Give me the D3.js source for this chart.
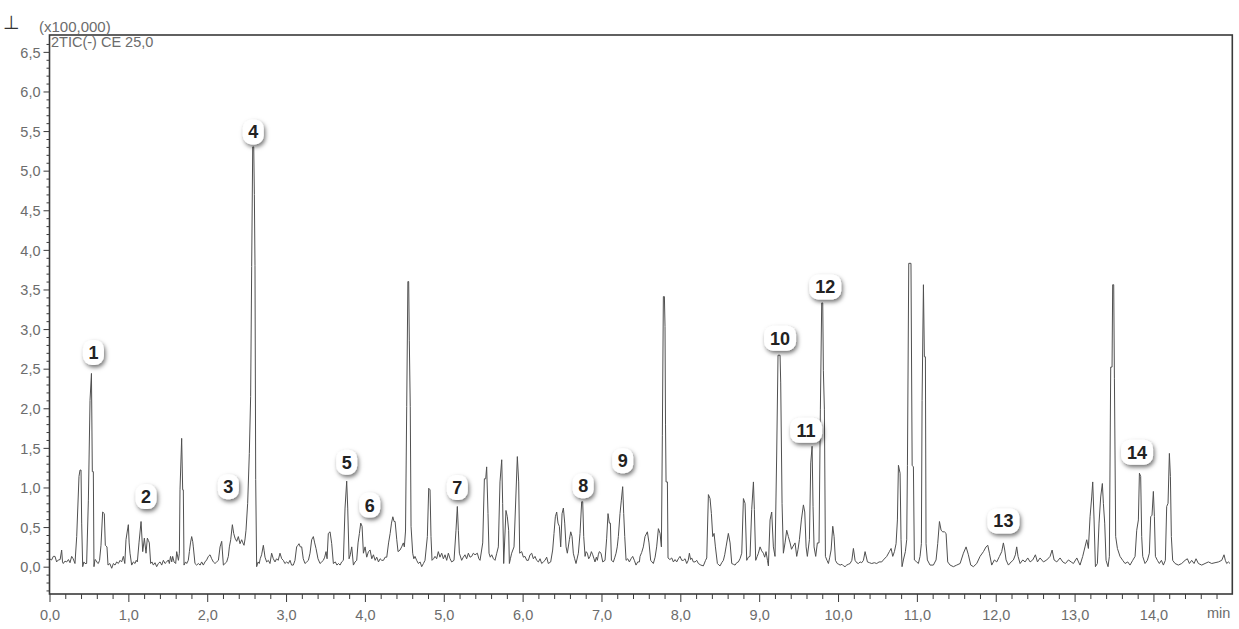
<!DOCTYPE html>
<html>
<head>
<meta charset="utf-8">
<script src="https://cdn.jsdelivr.net/npm/d3@7/dist/d3.min.js"></script>
<style>
  html, body { margin: 0; padding: 0; background: #ffffff; }
  svg { display: block; }
  text { font-family: "Liberation Sans", Arial, sans-serif; }
</style>
</head>
<body>
<svg id="chart" width="1239" height="629"></svg>
<script>
// Total ion chromatogram, negative mode: [retention time (min), intensity (x100,000)]
const tracePoints = [
  [0.000,0.10],[0.027,0.085],[0.048,0.13],[0.070,0.13],[0.090,0.06],[0.112,0.085],[0.135,0.09],[0.154,0.21],
  [0.165,0.06],[0.175,0.04],[0.196,0.07],[0.218,0.06],[0.240,0.09],[0.260,0.05],[0.281,0.13],[0.300,0.10],
  [0.323,0.04],[0.345,0.38],[0.374,1.14],[0.387,1.22],[0.400,1.22],[0.408,0.55],[0.421,0.00],[0.436,0.06],
  [0.450,0.04],[0.471,0.04],[0.493,0.84],[0.514,2.10],[0.532,2.44],[0.543,1.20],[0.556,1.20],[0.564,0.00],
  [0.577,0.09],[0.590,0.08],[0.605,0.05],[0.619,0.04],[0.635,0.08],[0.653,0.27],[0.674,0.69],[0.695,0.67],
  [0.708,0.27],[0.729,0.25],[0.742,0.02],
  [0.765,0.04],[0.789,-0.02],[0.810,0.04],[0.831,0.02],[0.852,0.06],[0.873,0.04],[0.895,0.08],[0.915,0.06],
  [0.937,0.13],[0.955,0.04],[0.970,0.34],[0.987,0.45],[1.000,0.53],[1.010,0.30],[1.021,0.17],[1.042,0.02],
  [1.064,0.06],[1.085,0.04],[1.100,0.08],[1.114,0.06],[1.135,0.30],[1.161,0.57],[1.182,0.19],[1.203,0.36],
  [1.224,0.17],[1.241,0.36],[1.255,0.33],[1.266,0.30],[1.283,0.04],[1.300,0.06],[1.317,0.02],[1.338,0.05],
  [1.359,0.00],[1.380,0.04],[1.402,0.06],[1.423,0.02],[1.444,0.08],[1.465,0.04],[1.486,0.06],[1.507,0.085],
  [1.520,0.04],[1.535,0.13],[1.550,0.06],[1.562,0.13],[1.580,0.06],[1.600,0.04],[1.613,0.19],[1.635,0.08],
  [1.647,0.17],[1.655,0.97],[1.676,1.62],[1.689,0.97],[1.697,0.97],[1.706,0.02],[1.725,0.06],[1.740,0.04],
  [1.760,0.08],[1.774,0.19],[1.788,0.30],[1.803,0.38],[1.816,0.32],[1.824,0.25],[1.845,0.04],[1.866,0.02],
  [1.888,0.04],[1.910,0.02],[1.930,0.06],[1.951,0.02],[1.972,0.06],[1.993,0.085],[2.015,0.13],[2.036,0.15],
  [2.057,0.10],[2.078,0.06],[2.099,0.04],[2.120,0.06],[2.142,0.08],[2.163,0.25],[2.184,0.32],[2.205,0.02],
  [2.226,0.04],[2.247,0.06],[2.268,0.13],[2.281,0.25],[2.298,0.34],[2.319,0.53],[2.336,0.42],[2.353,0.36],
  [2.374,0.32],[2.395,0.38],[2.416,0.29],[2.437,0.34],[2.452,0.30],[2.467,0.27],[2.480,0.35],
  [2.492,0.46],[2.513,0.80],[2.534,1.43],[2.551,2.15],[2.564,3.79],[2.577,5.30],[2.590,5.30],[2.598,4.70],
  [2.606,3.80],[2.615,1.10],[2.627,0.00],[2.645,0.06],[2.660,0.04],[2.672,0.10],[2.690,0.15],[2.712,0.27],
  [2.722,0.20],[2.733,0.12],[2.754,0.06],[2.775,0.08],[2.796,0.04],[2.817,0.17],[2.838,0.10],[2.860,0.06],
  [2.880,0.10],[2.900,0.08],[2.923,0.17],[2.945,0.10],[2.965,0.08],[2.985,0.04],[3.008,0.06],[3.029,0.04],
  [3.050,0.08],[3.070,0.02],[3.092,0.02],[3.113,0.08],[3.134,0.25],[3.150,0.27],[3.164,0.29],[3.180,0.25],
  [3.198,0.25],[3.218,0.10],[3.240,0.04],[3.262,0.06],[3.283,0.08],[3.304,0.17],[3.325,0.34],[3.346,0.38],
  [3.363,0.30],[3.380,0.23],[3.405,0.10],[3.431,0.04],[3.452,0.06],[3.473,0.08],[3.490,0.12],[3.507,0.19],
  [3.520,0.10],[3.536,0.42],[3.558,0.44],[3.579,0.29],[3.600,0.04],[3.625,0.06],[3.645,0.02],[3.665,0.04],
  [3.685,0.02],[3.705,0.06],[3.727,0.08],[3.748,0.74],[3.769,1.08],[3.782,0.74],[3.799,0.10],[3.815,0.15],
  [3.833,0.25],[3.854,0.02],[3.875,0.06],[3.896,0.08],[3.913,0.30],[3.930,0.42],[3.947,0.55],[3.964,0.51],
  [3.981,0.17],[4.002,0.25],[4.023,0.12],[4.045,0.19],[4.066,0.21],[4.087,0.10],[4.108,0.15],[4.130,0.08],
  [4.150,0.12],[4.172,0.06],[4.193,0.10],[4.214,0.08],[4.235,0.08],[4.256,0.12],[4.277,0.12],[4.300,0.30],
  [4.320,0.42],[4.337,0.55],[4.354,0.63],[4.370,0.57],[4.383,0.57],[4.404,0.34],[4.420,0.19],[4.445,0.21],
  [4.466,0.25],[4.487,0.30],[4.500,0.25],[4.515,0.45],[4.530,2.02],[4.545,3.60],[4.555,3.60],[4.563,2.86],
  [4.575,2.02],[4.585,0.51],[4.606,0.17],
  [4.620,0.10],[4.635,0.13],[4.656,0.08],[4.678,0.04],[4.700,0.06],[4.720,0.00],[4.742,0.04],[4.762,0.08],
  [4.792,0.38],[4.809,0.99],[4.826,0.97],[4.838,0.38],[4.851,0.08],[4.870,0.10],[4.889,0.13],[4.910,0.10],
  [4.931,0.19],[4.952,0.12],[4.974,0.17],[4.995,0.10],[5.016,0.15],[5.037,0.08],[5.058,0.17],[5.080,0.10],
  [5.100,0.06],[5.130,0.08],[5.155,0.46],[5.172,0.76],[5.185,0.46],[5.198,0.17],[5.227,0.08],[5.248,0.12],
  [5.269,0.15],[5.290,0.10],[5.312,0.17],[5.333,0.12],[5.354,0.13],[5.375,0.17],[5.396,0.15],[5.426,0.17],
  [5.445,0.10],[5.460,0.08],[5.494,0.30],[5.515,1.11],[5.532,1.11],[5.544,1.26],[5.561,0.67],[5.574,0.17],
  [5.590,0.12],[5.608,0.15],[5.630,0.10],[5.650,0.08],[5.672,0.17],[5.692,0.25],[5.713,1.07],[5.735,1.35],
  [5.747,0.80],[5.760,0.04],[5.789,0.71],[5.806,0.63],[5.823,0.46],[5.832,0.04],[5.845,0.10],[5.861,0.17],
  [5.891,0.25],[5.916,0.93],[5.933,1.39],[5.950,1.07],[5.963,0.17],[5.988,0.19],[6.010,0.12],[6.030,0.13],
  [6.052,0.08],[6.073,0.08],[6.094,0.15],[6.115,0.17],[6.136,0.10],[6.157,0.13],[6.178,0.08],[6.200,0.06],
  [6.221,0.10],[6.242,0.04],[6.263,0.06],[6.284,0.08],[6.305,0.12],[6.326,0.04],[6.356,0.06],[6.381,0.21],
  [6.398,0.42],[6.415,0.63],[6.432,0.69],[6.449,0.55],[6.466,0.51],[6.483,0.25],[6.500,0.67],[6.517,0.74],
  [6.534,0.55],[6.551,0.25],[6.567,0.17],[6.593,0.34],[6.610,0.44],[6.627,0.38],[6.643,0.17],[6.660,0.10],
  [6.677,0.04],[6.707,0.17],[6.728,0.42],[6.749,0.82],[6.762,0.82],[6.775,0.38],[6.792,0.13],[6.805,0.19],
  [6.821,0.17],[6.838,0.10],[6.855,0.13],[6.872,0.19],[6.889,0.15],[6.905,0.10],[6.918,0.06],[6.935,0.12],
  [6.948,0.08],[6.960,0.15],[6.973,0.19],[6.994,0.17],[7.016,0.06],[7.045,0.08],[7.066,0.36],[7.083,0.67],
  [7.100,0.55],[7.113,0.55],[7.126,0.08],[7.151,0.06],[7.170,0.12],[7.185,0.17],[7.200,0.25],[7.214,0.38],
  [7.235,0.67],[7.252,0.84],[7.269,1.01],[7.282,0.67],[7.295,0.38],[7.312,0.08],[7.333,0.10],[7.354,0.06],
  [7.375,0.10],[7.396,0.13],[7.417,0.08],[7.438,0.02],[7.460,0.06],[7.481,0.06],
  [7.489,0.13],[7.510,0.18],[7.531,0.25],[7.552,0.38],[7.582,0.44],[7.603,0.30],[7.624,0.08],[7.640,0.06],
  [7.658,0.04],[7.680,0.12],[7.700,0.25],[7.722,0.48],[7.743,0.42],[7.760,0.25],[7.772,1.66],[7.785,3.41],
  [7.798,3.41],[7.806,3.03],[7.812,1.80],[7.819,1.07],[7.836,1.07],[7.844,0.11],[7.868,0.09],[7.891,0.11],
  [7.912,0.06],[7.933,0.09],[7.954,0.06],[7.975,0.10],[7.996,0.13],[8.018,0.08],[8.039,0.08],[8.060,0.10],
  [8.081,0.04],[8.100,0.08],[8.115,0.17],[8.130,0.09],[8.144,0.11],[8.165,0.06],[8.187,0.06],[8.208,0.08],
  [8.229,0.04],[8.260,0.02],[8.292,0.01],[8.320,0.08],[8.335,0.11],[8.356,0.91],[8.377,0.86],[8.394,0.67],
  [8.411,0.38],[8.428,0.42],[8.445,0.25],[8.470,0.04],[8.490,0.02],[8.504,0.01],[8.525,0.05],[8.546,0.08],
  [8.563,0.15],[8.580,0.25],[8.609,0.42],[8.631,0.30],[8.652,0.04],[8.673,0.03],[8.694,0.02],[8.715,0.05],
  [8.736,0.06],[8.757,0.10],[8.779,0.17],[8.800,0.86],[8.821,0.80],[8.842,0.08],[8.863,0.12],[8.884,0.13],
  [8.905,0.72],[8.927,1.07],[8.939,0.72],[8.956,0.08],[8.975,0.13],[8.990,0.17],[9.011,0.25],[9.032,0.20],
  [9.053,0.17],[9.070,0.12],[9.087,0.19],[9.105,0.08],[9.117,0.01],[9.138,0.59],[9.159,0.69],[9.180,0.25],
  [9.201,0.13],[9.222,1.41],[9.239,2.67],[9.265,2.67],[9.273,2.32],[9.290,0.80],[9.307,0.17],[9.328,0.30],
  [9.349,0.46],[9.370,0.38],[9.392,0.30],[9.410,0.22],[9.425,0.25],[9.455,0.30],[9.476,0.13],[9.493,0.22],
  [9.510,0.34],[9.535,0.59],[9.561,0.78],[9.578,0.69],[9.595,0.25],[9.611,0.13],[9.637,0.34],[9.654,1.31],
  [9.671,1.52],[9.683,0.76],[9.696,0.25],[9.717,0.13],[9.738,0.30],[9.759,0.30],[9.776,1.98],[9.793,3.33],
  [9.806,3.33],[9.814,2.48],[9.827,1.98],[9.840,0.13],[9.860,0.08],[9.878,0.04],[9.895,0.12],[9.912,0.21],
  [9.933,0.51],[9.950,0.38],[9.967,0.08],[9.990,0.04],[10.010,0.03],[10.026,0.02],[10.050,0.03],[10.070,0.01],
  [10.089,0.00],[10.110,0.02],[10.130,0.03],[10.153,0.04],[10.175,0.08],[10.195,0.23],[10.216,0.08],[10.237,0.05],
  [10.258,0.04],[10.280,0.06],[10.300,0.05],[10.322,0.08],[10.343,0.19],[10.373,0.06],[10.400,0.05],[10.427,0.04],
  [10.460,0.05],[10.491,0.04],[10.520,0.06],[10.554,0.06],
  [10.575,0.085],[10.618,0.13],[10.651,0.19],[10.673,0.23],[10.694,0.13],[10.715,0.19],[10.736,0.29],[10.753,0.59],
  [10.766,1.28],[10.787,1.18],[10.799,0.34],[10.812,0.00],[10.829,0.085],[10.854,0.19],[10.871,0.34],[10.880,1.28],
  [10.897,3.83],[10.925,3.83],[10.940,1.28],[10.956,1.26],[10.968,0.085],[10.998,0.06],[11.019,0.04],[11.040,0.13],
  [11.057,0.29],[11.066,2.10],[11.083,3.56],[11.095,2.65],[11.108,2.65],[11.116,0.29],[11.133,0.085],[11.167,0.02],
  [11.209,0.02],[11.243,0.085],[11.264,0.29],[11.286,0.57],[11.307,0.46],[11.328,0.44],[11.349,0.44],[11.370,0.42],
  [11.391,0.06],[11.421,0.02],[11.463,0.00],[11.505,0.02],[11.548,0.04],[11.590,0.17],[11.624,0.25],[11.653,0.15],
  [11.683,0.02],[11.717,0.00],[11.759,0.04],[11.801,0.13],[11.844,0.19],[11.877,0.25],[11.899,0.27],[11.920,0.17],
  [11.949,0.02],[11.983,0.085],[12.013,0.06],[12.047,0.13],[12.076,0.19],[12.097,0.30],[12.114,0.21],[12.131,0.085],
  [12.161,0.02],[12.195,0.06],[12.224,0.085],[12.249,0.15],[12.266,0.25],[12.283,0.13],[12.309,0.04],[12.343,0.085],
  [12.372,0.06],[12.406,0.11],[12.436,0.06],[12.469,0.085],[12.503,0.15],[12.529,0.06],[12.562,0.11],[12.605,0.06],
  [12.647,0.085],[12.689,0.13],[12.715,0.21],[12.740,0.085],[12.774,0.06],[12.816,0.11],[12.850,0.06],[12.884,0.04],
  [12.922,0.085],[12.956,0.06],[12.985,0.04],[13.028,0.11],[13.050,0.06],
  [13.069,0.02],[13.103,0.13],[13.132,0.25],[13.154,0.34],[13.175,0.23],[13.196,0.63],[13.217,0.88],[13.230,1.07],
  [13.247,0.59],[13.264,0.00],[13.289,0.04],[13.310,0.55],[13.331,0.88],[13.352,1.05],[13.365,0.80],[13.382,0.55],
  [13.399,0.08],[13.424,0.00],[13.441,0.13],[13.458,2.52],[13.475,2.52],[13.483,3.56],[13.496,3.56],[13.505,2.38],
  [13.521,0.38],[13.543,0.23],[13.576,0.13],[13.610,0.08],[13.640,0.04],[13.674,0.06],[13.703,0.02],[13.737,0.08],
  [13.767,0.13],[13.788,0.46],[13.809,0.59],[13.822,1.18],[13.838,1.14],[13.851,0.38],[13.864,0.13],[13.893,0.04],
  [13.923,0.08],[13.948,0.17],[13.965,0.63],[13.982,0.65],[13.999,0.95],[14.012,0.63],[14.025,0.13],[14.050,0.08],
  [14.075,0.04],[14.101,0.08],[14.126,0.02],[14.151,0.08],[14.168,0.76],[14.185,0.80],[14.202,1.43],[14.215,1.14],
  [14.227,0.38],[14.244,0.08],[14.274,0.04],[14.316,0.02],[14.358,0.04],[14.401,0.08],[14.430,0.10],[14.456,0.04],
  [14.485,0.08],[14.515,0.04],[14.540,0.10],[14.570,0.04],[14.612,0.02],[14.654,0.04],[14.697,0.06],[14.739,0.04],
  [14.781,0.05],[14.824,0.06],[14.866,0.08],[14.895,0.15],[14.912,0.08],[14.929,0.04],[14.950,0.06],[14.971,0.04]
];

// Numbered compounds and the retention times (min) of the peaks they mark
const peakNumbers = ["1","2","3","4","5","6","7","8","9","10","11","12","13","14"];
const peakTimes   = [0.532, 1.161, 2.319, 2.584, 3.769, 3.947, 5.172, 6.755, 7.269, 9.252, 9.671, 9.800, 12.097, 13.830];

// Axis ticks
const xTickValues = [0,1,2,3,4,5,6,7,8,9,10,11,12,13,14];
const xTickLabels = ["0,0","1,0","2,0","3,0","4,0","5,0","6,0","7,0","8,0","9,0","10,0","11,0","12,0","13,0","14,0"];
const yTickValues = [0,0.5,1,1.5,2,2.5,3,3.5,4,4.5,5,5.5,6,6.5];
const yTickLabels = ["0,0","0,5","1,0","1,5","2,0","2,5","3,0","3,5","4,0","4,5","5,0","5,5","6,0","6,5"];

// ---- layout ----
const plot = { left: 49.5, right: 1232.3, top: 35, bottom: 594 };
// tag placement relative to each peak apex (pixels)
const labelNudge = [[2,-21],[5,-25],[-4,-38],[0,-15],[0,-19],[9,-18],[0,-19],[1,-16],[0,-26],[1,-17],[-6,-16],[3,-16],[0,-22],[-3,-21]];

const svg = d3.select("#chart");

const x = d3.scaleLinear().domain([0, 15]).range([plot.left, plot.right]);
const y = d3.scaleLinear().domain([-0.345, 6.713]).range([plot.bottom, plot.top]);

const defs = svg.append("defs");
const shadow = defs.append("filter").attr("id", "tagShadow")
  .attr("x", "-80%").attr("y", "-80%").attr("width", "260%").attr("height", "260%");
shadow.append("feDropShadow")
  .attr("dx", 1.5).attr("dy", 2.5).attr("stdDeviation", 2.2)
  .attr("flood-color", "#000").attr("flood-opacity", 0.55);

defs.append("clipPath").attr("id", "plotArea").append("rect")
  .attr("x", plot.left).attr("y", plot.top)
  .attr("width", plot.right - plot.left).attr("height", plot.bottom - plot.top);

const tickGray = "#6c6c6c";
const frameColor = "#3a3a3a";

// ---- axes ----
const yMinor = d3.range(-3, 67).map(i => i / 10).filter(v => Math.abs(v * 2 - Math.round(v * 2)) > 1e-6);
const xMinor = d3.range(1, 76).map(i => i / 5).filter(v => Math.abs(v - Math.round(v)) > 1e-6 && v < 15);

function styleAxis(g) {
  g.select(".domain").remove();
  g.selectAll(".tick line").attr("stroke", frameColor).attr("stroke-width", 1);
  g.selectAll(".tick text").attr("fill", tickGray).style("font-size", "14.5px")
    .style("font-family", "'Liberation Sans', Arial, sans-serif");
}

svg.append("g").attr("transform", `translate(${plot.left},0)`)
  .call(d3.axisLeft(y).tickValues(yMinor).tickSize(3).tickFormat(""))
  .call(styleAxis);
svg.append("g").attr("transform", `translate(${plot.left},0)`)
  .call(d3.axisLeft(y).tickValues(yTickValues).tickSize(6).tickPadding(3)
    .tickFormat((d, i) => yTickLabels[i]))
  .call(styleAxis)
  .call(g => g.selectAll(".tick text").attr("dy", "0.36em"));

svg.append("g").attr("transform", `translate(0,${plot.bottom})`)
  .call(d3.axisBottom(x).tickValues(xMinor).tickSize(5).tickFormat(""))
  .call(styleAxis);
svg.append("g").attr("transform", `translate(0,${plot.bottom})`)
  .call(d3.axisBottom(x).tickValues(xTickValues).tickSize(8).tickPadding(8)
    .tickFormat((d, i) => xTickLabels[i]))
  .call(styleAxis);

// ---- trace ----
const line = d3.line().x(d => x(d[0])).y(d => y(d[1]));
svg.append("path")
  .datum(tracePoints)
  .attr("clip-path", "url(#plotArea)")
  .attr("d", line)
  .attr("fill", "none")
  .attr("stroke", "#505050")
  .attr("stroke-width", 1)
  .attr("stroke-linejoin", "miter");

// ---- frame ----
svg.append("rect")
  .attr("x", plot.left).attr("y", plot.top)
  .attr("width", plot.right - plot.left).attr("height", plot.bottom - plot.top)
  .attr("fill", "none").attr("stroke", frameColor).attr("stroke-width", 1.6);

// ---- header texts ----
svg.append("text").attr("x", 3).attr("y", 29)
  .style("font-family", "'DejaVu Sans', sans-serif").style("font-size", "19px")
  .attr("fill", "#333").text("\u22A5");
svg.append("text").attr("x", 39).attr("y", 32)
  .style("font-size", "15px").attr("fill", tickGray).text("(x100,000)");
svg.append("text").attr("x", 51).attr("y", 47)
  .style("font-size", "14.5px").attr("fill", tickGray).text("2TIC(-) CE 25,0");
svg.append("text").attr("x", 1207).attr("y", 618)
  .style("font-size", "14.5px").attr("fill", tickGray).text("min");

// ---- peak tags ----
function apexOf(t) {
  const near = tracePoints.filter(p => Math.abs(p[0] - t) <= 0.02);
  return d3.max(near, p => p[1]);
}

const tags = svg.append("g").selectAll("g")
  .data(peakNumbers.map((n, i) => ({ n, t: peakTimes[i], v: apexOf(peakTimes[i]), nudge: labelNudge[i] })))
  .join("g")
  .attr("transform", d => `translate(${x(d.t) + d.nudge[0]},${y(d.v) + d.nudge[1]})`);

tags.append("rect")
  .attr("x", d => d.n.length > 1 ? -16 : -10.5)
  .attr("y", -12.5)
  .attr("width", d => d.n.length > 1 ? 32 : 21)
  .attr("height", 25)
  .attr("rx", 9).attr("ry", 9)
  .attr("fill", "#ffffff")
  .attr("filter", "url(#tagShadow)");

tags.append("text")
  .attr("text-anchor", "middle")
  .attr("y", 6.5)
  .style("font-size", "18px")
  .style("font-weight", "bold")
  .attr("fill", "#222")
  .text(d => d.n);
</script>
</body>
</html>
